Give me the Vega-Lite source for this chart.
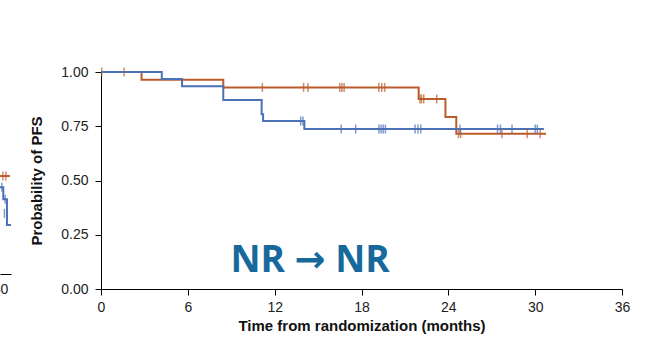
{
  "$schema": "https://vega.github.io/schema/vega-lite/v6.json",
  "autosize": {"type": "none"},
  "padding": {"left": 0, "top": 72, "right": 659, "bottom": 267},
  "bounds": "flush",
  "spacing": 90,
  "background": "white",
  "config": {
    "view": {"stroke": null},
    "font": "Liberation Sans",
    "axis": {
      "grid": false,
      "domainColor": "#000000",
      "tickColor": "#000000",
      "labelColor": "#222222",
      "titleColor": "#111111",
      "labelFont": "Liberation Sans",
      "titleFont": "Liberation Sans",
      "labelFontSize": 14,
      "titleFontSize": 15,
      "titleFontWeight": "bold",
      "tickSize": 6,
      "domainWidth": 1,
      "tickWidth": 1,
      "labelFlush": false
    }
  },
  "resolve": {"scale": {"x": "independent", "y": "independent"}},
  "datasets": {
    "km": [
      {"arm": "A", "t": 0, "s": 1},
      {"arm": "A", "t": 2.8, "s": 0.964},
      {"arm": "A", "t": 8.45, "s": 0.929},
      {"arm": "A", "t": 21.95, "s": 0.876},
      {"arm": "A", "t": 23.8, "s": 0.793},
      {"arm": "A", "t": 24.55, "s": 0.716},
      {"arm": "A", "t": 30.75, "s": 0.716},
      {"arm": "B", "t": 0, "s": 1},
      {"arm": "B", "t": 4.2, "s": 0.968},
      {"arm": "B", "t": 5.6, "s": 0.934},
      {"arm": "B", "t": 8.45, "s": 0.871},
      {"arm": "B", "t": 11.1, "s": 0.805},
      {"arm": "B", "t": 11.2, "s": 0.774},
      {"arm": "B", "t": 14.05, "s": 0.737},
      {"arm": "B", "t": 30.6, "s": 0.737}
    ],
    "censor": [
      {"arm": "A", "t": 0.05, "s": 1},
      {"arm": "A", "t": 1.6, "s": 1},
      {"arm": "A", "t": 11.15, "s": 0.929},
      {"arm": "A", "t": 14.0, "s": 0.929},
      {"arm": "A", "t": 14.3, "s": 0.929},
      {"arm": "A", "t": 16.5, "s": 0.929},
      {"arm": "A", "t": 16.65, "s": 0.929},
      {"arm": "A", "t": 16.8, "s": 0.929},
      {"arm": "A", "t": 19.2, "s": 0.929},
      {"arm": "A", "t": 19.4, "s": 0.929},
      {"arm": "A", "t": 19.6, "s": 0.929},
      {"arm": "A", "t": 22.05, "s": 0.876},
      {"arm": "A", "t": 22.15, "s": 0.876},
      {"arm": "A", "t": 22.3, "s": 0.876},
      {"arm": "A", "t": 23.2, "s": 0.876},
      {"arm": "A", "t": 24.7, "s": 0.716},
      {"arm": "A", "t": 24.85, "s": 0.716},
      {"arm": "A", "t": 27.7, "s": 0.716},
      {"arm": "A", "t": 29.45, "s": 0.716},
      {"arm": "A", "t": 30.35, "s": 0.716},
      {"arm": "B", "t": 13.8, "s": 0.774},
      {"arm": "B", "t": 13.95, "s": 0.774},
      {"arm": "B", "t": 16.6, "s": 0.737},
      {"arm": "B", "t": 17.6, "s": 0.737},
      {"arm": "B", "t": 19.2, "s": 0.737},
      {"arm": "B", "t": 19.35, "s": 0.737},
      {"arm": "B", "t": 19.5, "s": 0.737},
      {"arm": "B", "t": 19.65, "s": 0.737},
      {"arm": "B", "t": 21.7, "s": 0.737},
      {"arm": "B", "t": 21.9, "s": 0.737},
      {"arm": "B", "t": 22.1, "s": 0.737},
      {"arm": "B", "t": 24.8, "s": 0.737},
      {"arm": "B", "t": 27.4, "s": 0.737},
      {"arm": "B", "t": 27.6, "s": 0.737},
      {"arm": "B", "t": 28.4, "s": 0.737},
      {"arm": "B", "t": 30.0, "s": 0.737},
      {"arm": "B", "t": 30.15, "s": 0.737}
    ],
    "leftkm": [
      {"arm": "A", "t": 29, "s": 0.485},
      {"arm": "A", "t": 32.7, "s": 0.485},
      {"arm": "B", "t": 29, "s": 0.43},
      {"arm": "B", "t": 30.9, "s": 0.37},
      {"arm": "B", "t": 31.9, "s": 0.243},
      {"arm": "B", "t": 33, "s": 0.243}
    ],
    "leftcensor": [
      {"arm": "A", "t": 30.8, "s": 0.485},
      {"arm": "A", "t": 31.6, "s": 0.485},
      {"arm": "B", "t": 30.5, "s": 0.43},
      {"arm": "B", "t": 31.4, "s": 0.37},
      {"arm": "B", "t": 31.2, "s": 0.3}
    ],
    "note": [
      {"t": 14.45, "s": 0.127, "label": "NR → NR"}
    ]
  },
  "hconcat": [
    {
      "width": 11,
      "height": 202,
      "layer": [
        {
          "data": {"name": "leftkm"},
          "mark": {"type": "line", "interpolate": "step-after", "strokeWidth": 2, "clip": true},
          "encoding": {
            "x": {"field": "t", "type": "quantitative", "scale": {"domain": [30, 33]},
                  "axis": {"values": [30], "title": null, "tickSize": 0, "labelPadding": 8, "labelFlush": false}},
            "y": {"field": "s", "type": "quantitative", "scale": {"domain": [0, 1]}, "axis": null},
            "color": {"field": "arm", "type": "nominal",
                      "scale": {"domain": ["A", "B"], "range": ["#bb5b2b", "#4b72b6"]}, "legend": null}
          }
        },
        {
          "data": {"name": "leftcensor"},
          "mark": {"type": "tick", "orient": "vertical", "size": 9, "thickness": 1.5, "clip": true},
          "encoding": {
            "x": {"field": "t", "type": "quantitative"},
            "y": {"field": "s", "type": "quantitative"},
            "color": {"field": "arm", "type": "nominal", "legend": null}
          }
        }
      ]
    },
    {
      "width": 521,
      "height": 217,
      "layer": [
        {
          "data": {"name": "km"},
          "mark": {"type": "line", "interpolate": "step-after", "strokeWidth": 2},
          "encoding": {
            "x": {"field": "t", "type": "quantitative", "scale": {"domain": [0, 36], "nice": false},
                  "axis": {"values": [0, 6, 12, 18, 24, 30, 36], "title": "Time from randomization (months)",
                           "labelPadding": 5, "titlePadding": 4, "labelFlush": false}},
            "y": {"field": "s", "type": "quantitative", "scale": {"domain": [0, 1], "nice": false},
                  "axis": {"values": [0, 0.25, 0.5, 0.75, 1], "format": ".2f", "title": "Probability of PFS",
                           "labelPadding": 7, "titlePadding": 16}},
            "color": {"field": "arm", "type": "nominal",
                      "scale": {"domain": ["A", "B"], "range": ["#bb5b2b", "#4b72b6"]}, "legend": null}
          }
        },
        {
          "data": {"name": "censor"},
          "mark": {"type": "tick", "orient": "vertical", "size": 9, "thickness": 1.5},
          "encoding": {
            "x": {"field": "t", "type": "quantitative"},
            "y": {"field": "s", "type": "quantitative"},
            "color": {"field": "arm", "type": "nominal", "legend": null}
          }
        },
        {
          "data": {"name": "note"},
          "mark": {"type": "text", "font": "'Open Sans', 'DejaVu Sans'", "fontWeight": "bold", "fontSize": 37, "color": "#17699c", "align": "center", "baseline": "middle"},
          "encoding": {
            "x": {"field": "t", "type": "quantitative"},
            "y": {"field": "s", "type": "quantitative"},
            "text": {"field": "label"}
          }
        }
      ]
    }
  ]
}
